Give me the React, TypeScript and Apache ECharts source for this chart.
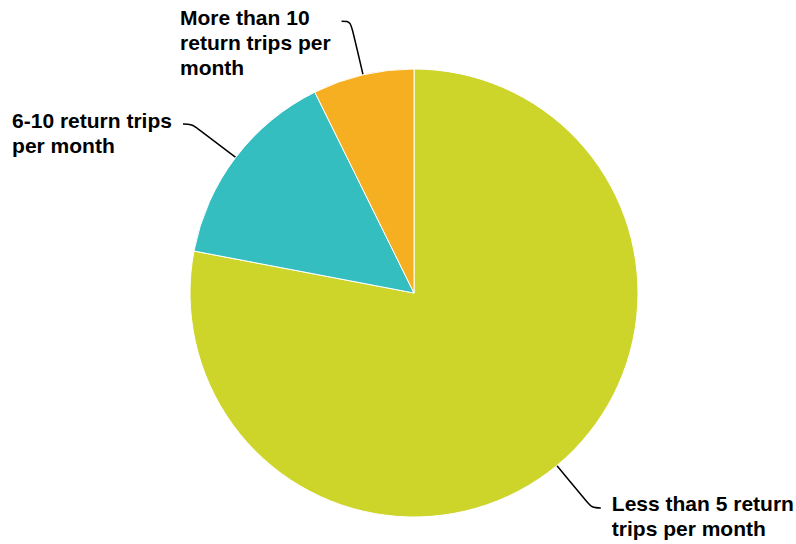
import React, { useEffect, useRef } from "react";
import * as echarts from "echarts";

const categories = [
  "Less than 5 return\ntrips per month",
  "6-10 return trips\nper month",
  "More than 10\nreturn trips per\nmonth",
];
const values = [78.0, 14.7, 7.3];
const colors = ["#CED52A", "#34BEC0", "#F6AF21"];

const LINE_H = 25;

export default function App() {
  const ref = useRef<HTMLDivElement>(null);

  useEffect(() => {
    if (!ref.current) return;
    const chart = echarts.init(ref.current, null, { renderer: "svg" });
    chart.setOption({
      animation: false,
      backgroundColor: "#ffffff",
      series: [
        {
          type: "pie",
          left: -20,
          right: -52,
          top: -40,
          bottom: -82,
          center: ["50%", "50%"],
          radius: 224,
          startAngle: 90,
          clockwise: true,
          avoidLabelOverlap: false,
          data: categories.map((name, i) => ({
            name,
            value: values[i],
            itemStyle: { color: colors[i] },
          })),
          itemStyle: { borderColor: "#ffffff", borderWidth: 1 },
          emphasis: { disabled: true },
          label: {
            show: true,
            position: "outside",
            formatter: "{b}",
            color: "#000000",
            fontFamily: "'Liberation Sans', Arial, sans-serif",
            fontWeight: "bold",
            fontSize: 21,
            lineHeight: LINE_H,
            distanceToLabelLine: 11,
            bleedMargin: 0,
          },
          labelLine: {
            show: true,
            length: 55,
            length2: 9,
            smooth: 0.35,
            lineStyle: { color: "#000000", width: 1.5 },
          },
          labelLayout: (params: any) => {
            const pts = params.labelLinePoints;
            const end = pts[pts.length - 1];
            return {
              x: params.labelRect.x,
              y: end[1] - LINE_H / 2 - 4,
              align: "left",
              verticalAlign: "top",
              labelLinePoints: pts,
            };
          },
        },
      ],
    });
    return () => chart.dispose();
  }, []);

  return (
    <div
      ref={ref}
      style={{ position: "fixed", left: 0, top: 0, width: 796, height: 544 }}
    />
  );
}
